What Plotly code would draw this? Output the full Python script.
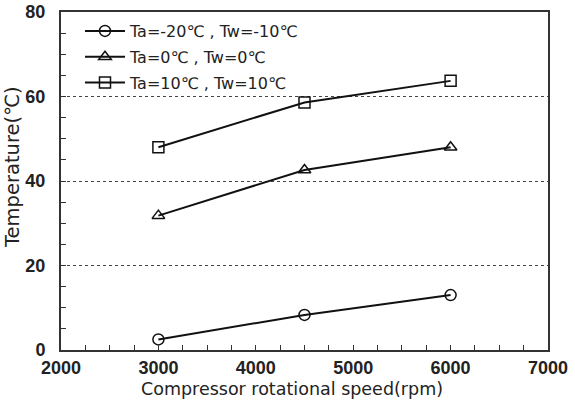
import plotly.graph_objects as go

speed = [3000, 4500, 6000]
t_low = [2.5, 8.3, 13.0]
t_mid = [31.8, 42.6, 48.0]
t_high = [48.0, 58.6, 63.7]
names = ["Ta=-20℃ , Tw=-10℃", "Ta=0℃ , Tw=0℃", "Ta=10℃ , Tw=10℃"]
symbols = ["circle-open", "triangle-up-open", "square-open"]
x_title = "Compressor rotational speed(rpm)"
y_title = "Temperature(℃)"

fig = go.Figure()
for i, (ys, nm, sym) in enumerate(zip([t_low, t_mid, t_high], names, symbols)):
    fig.add_trace(go.Scatter(
        x=speed, y=ys, name=nm, mode="lines+markers", legendgroup=f"g{i}",
        line=dict(color="#111111", width=2),
        marker=dict(symbol=sym, size=11, color="#111111", line=dict(width=1.5, color="#111111")),
    ))

tfont = "DejaVu Sans, sans-serif"
nfont = "Liberation Sans, Arial, sans-serif"
fig.update_layout(
    width=575, height=400,
    margin=dict(l=61, r=27, t=12, b=50, autoexpand=False),
    paper_bgcolor="white", plot_bgcolor="white",
    font=dict(size=14, family=nfont, color="#222222"),
    showlegend=True,
    legend=dict(x=0.039, y=0.994, xanchor="left", yanchor="top",
                bgcolor="rgba(255,255,255,0)", font=dict(size=16, family=tfont, color="#222222"),
                tracegroupgap=2, itemwidth=40),
    xaxis=dict(
        range=[2000, 7000], dtick=1000, tick0=2000, automargin=False,
        showline=True, linecolor="#333333", linewidth=2, mirror=True,
        ticks="inside", ticklen=5, tickcolor="#333333",
        minor=dict(dtick=250, ticks="inside", ticklen=5, tickcolor="#333333"),
        showgrid=False, zeroline=False, ticklabelstandoff=0,
        tickfont=dict(size=18, family=nfont, color="#222222", weight="bold"),
    ),
    yaxis=dict(
        range=[0, 80], dtick=20, automargin=False,
        showline=True, linecolor="#333333", linewidth=2, mirror=True,
        ticks="inside", ticklen=5, tickcolor="#333333",
        minor=dict(dtick=5, ticks="inside", ticklen=5, tickcolor="#333333"),
        showgrid=True, gridcolor="#444444", griddash="dot", gridwidth=1,
        zeroline=False, ticklabelstandoff=10,
        tickfont=dict(size=18, family=nfont, color="#222222", weight="bold"),
    ),
    annotations=[
        dict(text=x_title, xref="paper", yref="paper", x=(292 - 61) / 487, y=(350 - 389) / 338,
             xanchor="center", yanchor="middle", showarrow=False,
             font=dict(size=17.5, family=tfont, color="#222222")),
        dict(text=y_title, xref="paper", yref="paper", x=(12 - 61) / 487, y=(350 - 167) / 338,
             xanchor="center", yanchor="middle", showarrow=False, textangle=-90,
             font=dict(size=19.5, family=tfont, color="#222222")),
    ],
)
fig.write_html("out.html")
